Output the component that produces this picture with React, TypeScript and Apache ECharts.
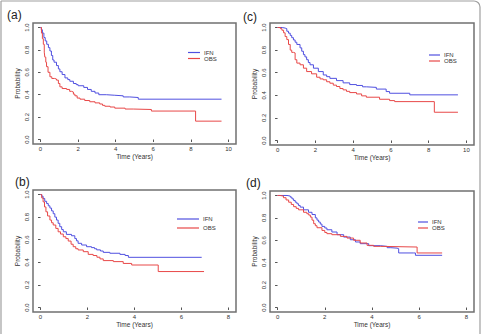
import React, { useEffect, useRef } from "react";
import * as echarts from "echarts";

// Kaplan-Meier survival estimates: [time in years, survival probability]
const ifnA = [
  [0, 1], [0.04, 0.98], [0.1, 0.95], [0.18, 0.91], [0.25, 0.88], [0.33, 0.85], [0.42, 0.82], [0.5, 0.79],
  [0.58, 0.75], [0.65, 0.71], [0.72, 0.69], [0.85, 0.66], [0.95, 0.63], [1.03, 0.605], [1.15, 0.58],
  [1.3, 0.55], [1.45, 0.535], [1.56, 0.52], [1.75, 0.5], [1.9, 0.49], [2.0, 0.48], [2.3, 0.465],
  [2.5, 0.447], [2.7, 0.43], [2.9, 0.415], [3.1, 0.4], [3.5, 0.395], [3.95, 0.39], [4.4, 0.38],
  [4.75, 0.375], [5.2, 0.36], [9.63, 0.36],
];
const obsA = [
  [0, 1], [0.05, 0.95], [0.1, 0.9], [0.15, 0.85], [0.2, 0.78], [0.23, 0.735], [0.28, 0.69], [0.32, 0.65],
  [0.4, 0.6], [0.5, 0.56], [0.6, 0.545], [0.75, 0.54], [0.85, 0.53], [0.95, 0.5], [1.03, 0.47],
  [1.15, 0.455], [1.39, 0.447], [1.55, 0.43], [1.65, 0.424], [1.75, 0.405], [1.83, 0.39], [1.95, 0.37],
  [2.1, 0.36], [2.35, 0.348], [2.62, 0.337], [2.9, 0.327], [3.15, 0.317], [3.3, 0.305], [3.42, 0.297],
  [3.7, 0.29], [3.95, 0.28], [4.5, 0.272], [4.93, 0.268], [5.9, 0.254], [8.25, 0.164], [9.63, 0.164],
];
const ifnB = [
  [0, 1], [0.05, 0.985], [0.11, 0.965], [0.18, 0.94], [0.26, 0.92], [0.33, 0.9], [0.4, 0.88], [0.47, 0.855],
  [0.54, 0.83], [0.61, 0.8], [0.68, 0.774], [0.75, 0.745], [0.82, 0.715], [0.9, 0.69], [0.97, 0.67],
  [1.1, 0.647], [1.32, 0.635], [1.46, 0.61], [1.53, 0.59], [1.6, 0.568], [1.75, 0.553], [1.96, 0.538],
  [2.17, 0.53], [2.3, 0.52], [2.39, 0.51], [2.55, 0.5], [2.67, 0.488], [2.95, 0.48], [3.38, 0.47],
  [3.6, 0.46], [3.74, 0.444], [6.86, 0.444],
];
const obsB = [
  [0, 1], [0.05, 0.97], [0.11, 0.935], [0.17, 0.89], [0.23, 0.847], [0.3, 0.81], [0.4, 0.774], [0.47, 0.75],
  [0.54, 0.73], [0.65, 0.7], [0.75, 0.67], [0.85, 0.65], [0.97, 0.626], [1.08, 0.61], [1.18, 0.588],
  [1.3, 0.56], [1.39, 0.538], [1.5, 0.52], [1.6, 0.509], [1.82, 0.494], [2.03, 0.47], [2.24, 0.46],
  [2.4, 0.445], [2.53, 0.43], [2.67, 0.415], [3.1, 0.406], [3.52, 0.39], [3.88, 0.376], [5.01, 0.318],
  [6.96, 0.318],
];
const ifnC = [
  [0, 1], [0.25, 0.995], [0.4, 0.99], [0.49, 0.967], [0.58, 0.95], [0.67, 0.93], [0.75, 0.91], [0.84, 0.89],
  [0.93, 0.87], [1.02, 0.85], [1.19, 0.82], [1.28, 0.79], [1.37, 0.76], [1.45, 0.74], [1.54, 0.715],
  [1.63, 0.69], [1.72, 0.67], [1.9, 0.64], [2.16, 0.61], [2.42, 0.58], [2.6, 0.565], [2.77, 0.55],
  [3.12, 0.53], [3.47, 0.51], [3.82, 0.495], [4.18, 0.487], [4.5, 0.475], [4.7, 0.47], [5.23, 0.455],
  [5.75, 0.433], [5.93, 0.418], [7.0, 0.404], [9.55, 0.404],
];
const obsC = [
  [0, 1], [0.15, 0.99], [0.23, 0.976], [0.32, 0.953], [0.4, 0.92], [0.49, 0.893], [0.58, 0.85], [0.67, 0.8],
  [0.75, 0.78], [0.84, 0.775], [0.93, 0.715], [1.02, 0.685], [1.19, 0.67], [1.37, 0.64], [1.54, 0.61],
  [1.8, 0.59], [2.07, 0.56], [2.25, 0.545], [2.42, 0.537], [2.6, 0.52], [2.77, 0.507], [2.95, 0.49],
  [3.12, 0.478], [3.3, 0.46], [3.47, 0.448], [3.65, 0.435], [3.82, 0.424], [4.18, 0.412], [4.45, 0.395],
  [4.7, 0.383], [5.4, 0.365], [5.93, 0.353], [6.2, 0.344], [8.3, 0.25], [9.55, 0.25],
];
const ifnD = [
  [0, 1], [0.4, 0.995], [0.54, 0.985], [0.61, 0.97], [0.68, 0.955], [0.75, 0.94], [0.82, 0.926], [0.89, 0.91],
  [0.96, 0.896], [1.1, 0.872], [1.31, 0.85], [1.46, 0.83], [1.6, 0.8], [1.67, 0.78], [1.74, 0.763],
  [1.81, 0.745], [1.88, 0.724], [2.0, 0.71], [2.09, 0.694], [2.3, 0.674], [2.52, 0.65], [2.8, 0.629],
  [3.08, 0.605], [3.3, 0.585], [3.5, 0.57], [3.86, 0.552], [4.35, 0.546], [4.64, 0.534], [4.8, 0.53],
  [5.06, 0.525], [5.13, 0.487], [5.77, 0.487], [5.84, 0.466], [6.97, 0.466],
];
const obsD = [
  [0, 1], [0.1, 0.995], [0.25, 0.98], [0.36, 0.96], [0.47, 0.94], [0.58, 0.92], [0.68, 0.9], [0.79, 0.885],
  [0.89, 0.872], [1.1, 0.85], [1.24, 0.837], [1.32, 0.825], [1.39, 0.807], [1.46, 0.78], [1.53, 0.748],
  [1.6, 0.73], [1.67, 0.712], [1.88, 0.688], [2.0, 0.67], [2.09, 0.659], [2.3, 0.65], [2.66, 0.635],
  [2.94, 0.62], [3.22, 0.6], [3.5, 0.576], [3.79, 0.555], [4.07, 0.546], [4.35, 0.54], [5.91, 0.487],
  [6.97, 0.487],
];

const groupNames = ["IFN", "OBS"];
const xTicksLong = [0, 2, 4, 6, 8, 10];
const xTicksShort = [0, 2, 4, 6, 8];
const yTicks = [0, 0.2, 0.4, 0.6, 0.8, 1.0];
const panelLabels = ["(a)", "(b)", "(c)", "(d)"];

const IFN_COLOR = "#5050e0";
const OBS_COLOR = "#e84848";
const FONT = "'Liberation Sans', Arial, sans-serif";

const panels = [
  {
    label: panelLabels[0], ifn: ifnA, obs: obsA, xTicks: xTicksLong, xMax: 10,
    grid: { left: 33, top: 23, width: 203, height: 121 },
    tag: { x: 7, y: 15 },
    legend: { left: 188, top: 49.5, itemWidth: 12, itemGap: 0 },
  },
  {
    label: panelLabels[1], ifn: ifnB, obs: obsB, xTicks: xTicksShort, xMax: 8,
    grid: { left: 33, top: 190, width: 203, height: 122 },
    tag: { x: 15, y: 182 },
    legend: { left: 177, top: 216, itemWidth: 22, itemGap: 3 },
  },
  {
    label: panelLabels[2], ifn: ifnC, obs: obsC, xTicks: xTicksLong, xMax: 10,
    grid: { left: 270, top: 23, width: 204, height: 122 },
    tag: { x: 243, y: 17 },
    legend: { left: 429, top: 52, itemWidth: 11, itemGap: 0 },
  },
  {
    label: panelLabels[3], ifn: ifnD, obs: obsD, xTicks: xTicksShort, xMax: 8,
    grid: { left: 270, top: 191, width: 204, height: 121 },
    tag: { x: 246, y: 183 },
    legend: { left: 418, top: 219, itemWidth: 10, itemGap: 0 },
  },
];

const tickText = { fontSize: 6, color: "#333", fontFamily: FONT };

function buildOption() {
  return {
    animation: false,
    backgroundColor: "#ffffff",
    grid: panels.map((p) => ({
      ...p.grid,
      show: true,
      borderColor: "#707070",
      borderWidth: 1.5,
      backgroundColor: "transparent",
      containLabel: false,
    })),
    xAxis: panels.map((p, i) => ({
      gridIndex: i,
      type: "value",
      min: -0.04 * p.xMax,
      max: 1.04 * p.xMax,
      axisLine: { show: false },
      splitLine: { show: false },
      axisTick: {
        show: true,
        customValues: p.xTicks,
        length: 2.5,
        lineStyle: { color: "#555", width: 1 },
      },
      axisLabel: { customValues: p.xTicks, margin: 2, ...tickText },
      name: "Time (Years)",
      nameLocation: "middle",
      nameGap: 9,
      nameTextStyle: { ...tickText, fontSize: 6.5 },
    })),
    yAxis: panels.map((p, i) => ({
      gridIndex: i,
      type: "value",
      min: -0.04,
      max: 1.04,
      axisLine: { show: false },
      splitLine: { show: false },
      axisTick: {
        show: true,
        customValues: yTicks,
        length: 2.5,
        lineStyle: { color: "#555", width: 1 },
      },
      axisLabel: {
        customValues: yTicks,
        rotate: 90,
        margin: 3,
        formatter: (v: number) => v.toFixed(1),
        ...tickText,
      },
      name: "Probability",
      nameLocation: "middle",
      nameGap: 12,
      nameTextStyle: { ...tickText, fontSize: 6.5 },
    })),
    legend: panels.map((p) => ({
      data: groupNames,
      orient: "vertical",
      left: p.legend.left,
      top: p.legend.top,
      itemWidth: p.legend.itemWidth,
      itemHeight: 1.2,
      itemGap: p.legend.itemGap,
      icon: "rect",
      padding: 0,
      selectedMode: false,
      textStyle: { fontSize: 6, color: "#333", fontFamily: FONT, padding: [0, 0, 0, -1] },
    })),
    series: panels.flatMap((p, i) => [
      {
        name: groupNames[0],
        type: "line",
        step: "end",
        xAxisIndex: i,
        yAxisIndex: i,
        data: p.ifn,
        showSymbol: false,
        color: IFN_COLOR,
        lineStyle: { width: 1, color: IFN_COLOR },
      },
      {
        name: groupNames[1],
        type: "line",
        step: "end",
        xAxisIndex: i,
        yAxisIndex: i,
        data: p.obs,
        showSymbol: false,
        color: OBS_COLOR,
        lineStyle: { width: 1, color: OBS_COLOR },
      },
    ]),
    graphic: [
      {
        type: "rect",
        silent: true,
        shape: { x: 1, y: 1, width: 479, height: 350, r: [0, 6, 0, 0] },
        style: { fill: "none", stroke: "#a0a0a0", lineWidth: 1.2 },
      },
      ...panels.map((p) => ({
        type: "text",
        silent: true,
        x: p.tag.x,
        y: p.tag.y,
        style: {
          text: p.label,
          fontSize: 12,
          fontFamily: FONT,
          fill: "#222",
          verticalAlign: "middle",
        },
      })),
    ],
  };
}

export default function App() {
  const ref = useRef<HTMLDivElement>(null);
  useEffect(() => {
    if (!ref.current) return;
    const chart = echarts.init(ref.current, null, { renderer: "svg" });
    chart.setOption(buildOption() as any);
    return () => chart.dispose();
  }, []);
  return (
    <div
      ref={ref}
      style={{ position: "fixed", left: 0, top: 0, width: 485, height: 334, background: "#fff" }}
    />
  );
}
